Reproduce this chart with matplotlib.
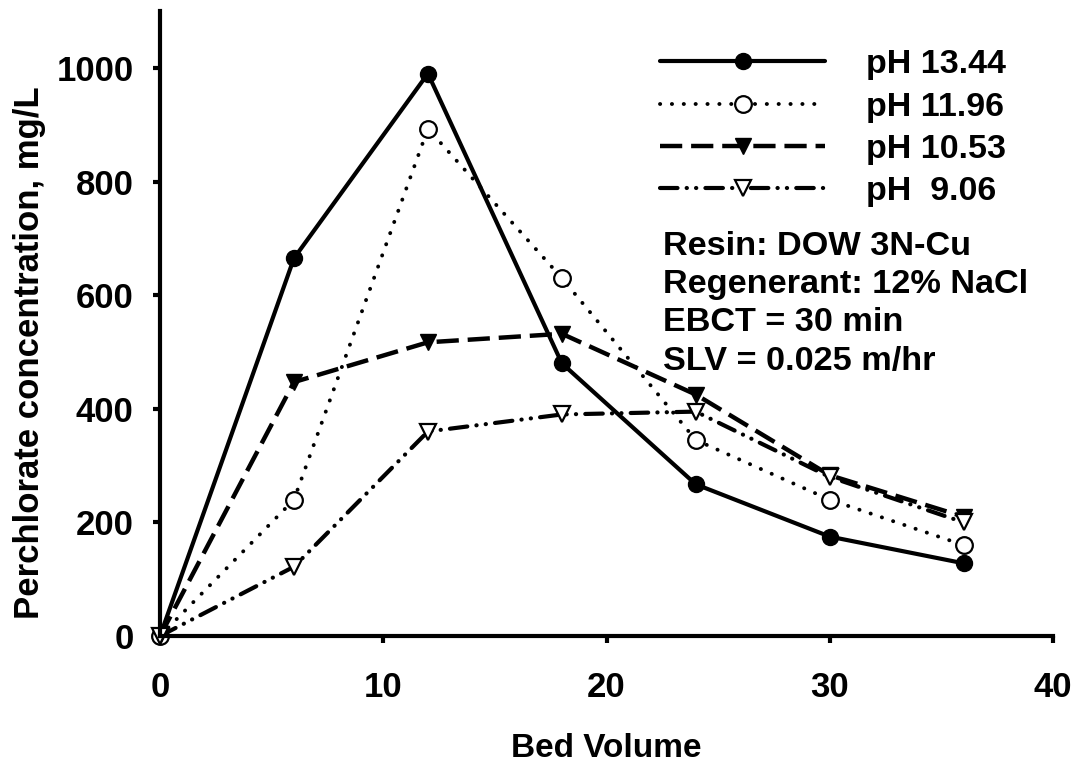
import matplotlib
matplotlib.use("Agg")
import matplotlib.pyplot as plt

bed_volume = [0, 6, 12, 18, 24, 30, 36]
ph_1344 = [0, 665, 990, 480, 267, 175, 128]
ph_1196 = [0, 240, 893, 630, 345, 240, 160]
ph_1053 = [0, 447, 517, 532, 425, 283, 210]
ph_906 = [0, 122, 360, 390, 395, 280, 200]
labels = ["pH 13.44", "pH 11.96", "pH 10.53", "pH  9.06"]
notes = ["Resin: DOW 3N-Cu", "Regenerant: 12% NaCl", "EBCT = 30 min", "SLV = 0.025 m/hr"]

plt.rcParams['font.family'] = ['Liberation Sans', 'DejaVu Sans']
plt.rcParams['font.weight'] = 'bold'

fig = plt.figure(figsize=(10.85, 7.64), dpi=100)
ax = fig.add_axes([0.1475, 0.1675, 0.823, 0.818])

ax.plot(bed_volume, ph_1344, color='black', lw=3.0, ls='-', marker='o', ms=11.5,
        mfc='black', mec='black', label=labels[0], solid_capstyle='round')
ax.plot(bed_volume, ph_1196, color='black', lw=2.8, ls=(0, (0.05, 3.0)), marker='o', ms=12,
        mfc='white', mec='black', mew=1.6, label=labels[1], dash_capstyle='round')
ax.plot(bed_volume, ph_1053, color='black', lw=3.2, ls=(0, (5, 2)), marker='v', ms=12,
        mfc='black', mec='black', label=labels[2])
ax.plot(bed_volume, ph_906, color='black', lw=3.0, ls=(0, (4.2, 2.2, 0.05, 2.2, 0.05, 2.2)), marker='v', ms=12,
        mfc='white', mec='black', mew=1.6, label=labels[3], dash_capstyle='round')

ax.set_xlim(0, 40)
ax.set_ylim(0, 1100)
ax.set_xticks([0, 10, 20, 30, 40])
ax.set_yticks([0, 200, 400, 600, 800, 1000])
ax.tick_params(labelsize=25, width=3, length=5, direction='out')
ax.tick_params(axis='y', pad=14)
ax.tick_params(axis='x', pad=20)
for lab in ax.get_xticklabels() + ax.get_yticklabels():
    lab.set_fontweight('bold')
ax.spines['top'].set_visible(False)
ax.spines['right'].set_visible(False)
ax.spines['left'].set_linewidth(3)
ax.spines['bottom'].set_linewidth(3)
for line in ax.get_lines():
    line.set_clip_on(False)

ax.set_xlabel("Bed Volume", fontsize=24, fontweight='bold', labelpad=21)
ax.set_ylabel("Perchlorate concentration, mg/L", fontsize=25, fontweight='bold')
ax.yaxis.set_label_coords(-0.128, 0.453)

leg = ax.legend(loc='upper right', bbox_to_anchor=(0.9476, 0.939), frameon=False,
                fontsize=24.5, handlelength=4.85, handletextpad=1.2, labelspacing=0.335,
                borderaxespad=0.0, borderpad=0.0)
for t in leg.get_texts():
    t.set_fontweight('bold')

y0 = 0.624
for i, n in enumerate(notes):
    ax.text(0.563, y0 - i * 0.0615, n, transform=ax.transAxes, fontsize=24.7,
            fontweight='bold', va='center', ha='left')

fig.savefig("out.png", dpi=100)
